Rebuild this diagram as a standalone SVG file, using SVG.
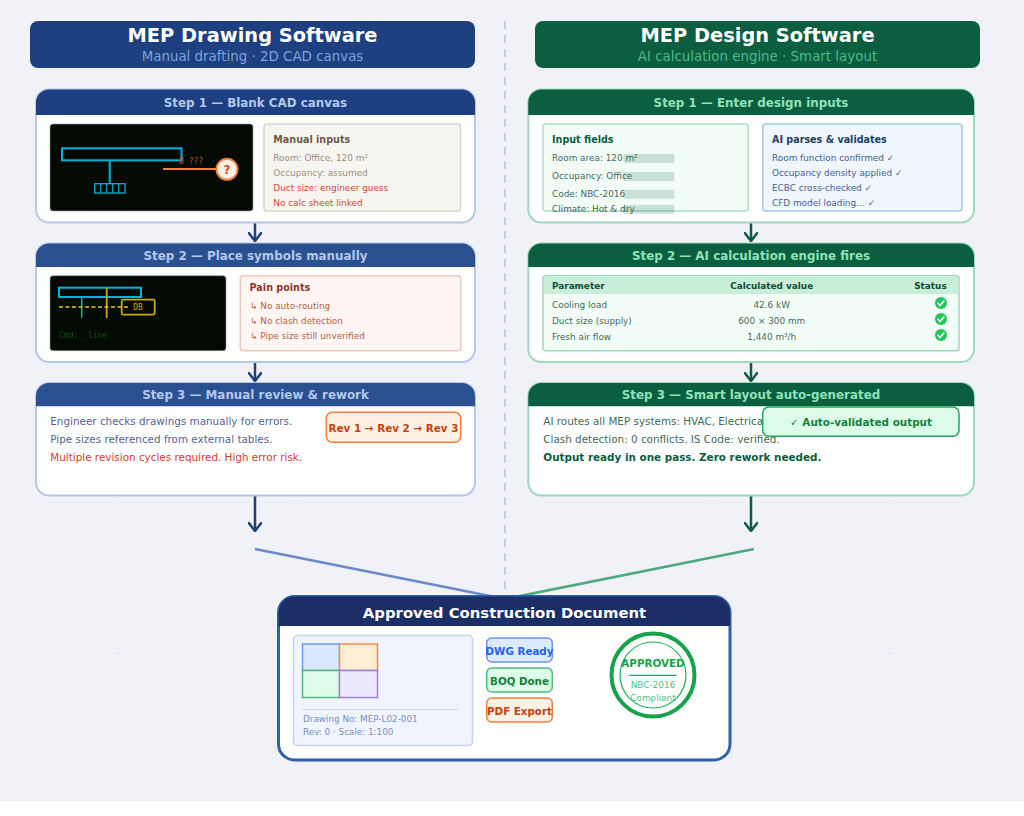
<svg xmlns="http://www.w3.org/2000/svg" width="1024" height="816" viewBox="0 0 1024 816">
<defs>
<style>
text{font-family:"DejaVu Sans",sans-serif;font-size:9px}
.m{text-anchor:middle}
.b{font-weight:700}
.mono{font-family:"DejaVu Sans Mono",monospace;font-size:8px}
.ttl{font-size:19.4px;font-weight:700;fill:#fff;text-anchor:middle}
.sub{font-size:13.4px;text-anchor:middle}
.cl{fill:#fff;stroke:#b8c8e4;stroke-width:2}
.cr{fill:#fff;stroke:#9ed9bb;stroke-width:2}
.hd{font-size:11.9px;font-weight:700;text-anchor:middle}
.bt{font-size:9.6px;font-weight:700}
.t9{font-size:8.9px}
.t11{font-size:10.4px}
.chip{fill:#0b5e3f;opacity:.18}
.dk{fill:#030a03;stroke:#9aa39a;stroke-width:.6}
.cy{fill:none;stroke:#00b4d8;stroke-width:2}
.ye{fill:none;stroke:#c9a800;stroke-width:1.8}
.ok{fill:#22c55e}
.tick{fill:none;stroke:#fff;stroke-width:1.6}
.conn{fill:none;stroke-width:2.5}
.speck{fill:#dcdfe6}
</style>
<marker id="ab" viewBox="0 0 14 10" refX="7" refY="9" markerWidth="14" markerHeight="10" markerUnits="userSpaceOnUse" orient="0"><path d="M0 0 7 9 14 0" fill="none" stroke="#1e3f80" stroke-width="2.5"/></marker>
<marker id="ag" viewBox="0 0 14 10" refX="7" refY="9" markerWidth="14" markerHeight="10" markerUnits="userSpaceOnUse" orient="0"><path d="M0 0 7 9 14 0" fill="none" stroke="#0b5e3f" stroke-width="2.5"/></marker>
</defs>
<rect width="1024" height="816" fill="#fff"/>
<rect width="1024" height="801" fill="#f0f2f7"/>
<g id="specks">
<rect class="speck" x="117" y="503" width="2" height="2"/><rect class="speck" x="295" y="503" width="2" height="2"/><rect class="speck" x="711" y="503" width="2" height="2"/><rect class="speck" x="889" y="503" width="2" height="2"/><rect class="speck" x="117" y="652" width="2" height="2"/><rect class="speck" x="889" y="652" width="2" height="2"/>
</g>
<g id="connectors">
<line x1="505" y1="21" x2="505" y2="596" stroke="#c8cde0" stroke-width="2" stroke-dasharray="8 6"/>
<path class="conn" d="M255 222V241" stroke="#1e3f80" marker-end="url(#ab)"/>
<path class="conn" d="M255 362V381" stroke="#1e3f80" marker-end="url(#ab)"/>
<path class="conn" d="M255 496V531" stroke="#1e3f80" marker-end="url(#ab)"/>
<path class="conn" d="M751 222V241" stroke="#0b5e3f" marker-end="url(#ag)"/>
<path class="conn" d="M751 362V381" stroke="#0b5e3f" marker-end="url(#ag)"/>
<path class="conn" d="M751 496V531" stroke="#0b5e3f" marker-end="url(#ag)"/>
<path class="conn" d="M255 549 505 599" stroke="#6b8cc4"/>
<path class="conn" d="M754 549 505 599" stroke="#4fa884"/>
</g>
<g id="title-left">
<rect x="30" y="21" width="445" height="47" rx="8" fill="#1e3f80"/>
<text class="ttl" x="252.500" y="42">MEP Drawing Software</text>
<text class="sub" x="252.500" y="61" fill="#7fa3d9">Manual drafting · 2D CAD canvas</text>
</g>
<g id="title-right">
<rect x="535" y="21" width="445" height="47" rx="8" fill="#0b5e3f"/>
<text class="ttl" x="757.500" y="42">MEP Design Software</text>
<text class="sub" x="757.500" y="61" fill="#4fb88a">AI calculation engine · Smart layout</text>
</g>
<g id="left-step-1">
<rect class="cl" x="36" y="89.500" width="439" height="133" rx="13"/>
<path d="M36 115V102.500a13 13 0 0 1 13-13H462a13 13 0 0 1 13 13V115Z" fill="#1e3f80"/>
<text class="hd" x="255.500" y="107" fill="#b3c8ec">Step 1 — Blank CAD canvas</text>
<rect class="dk" x="50" y="124" width="203" height="87" rx="3"/>
<rect class="cy" x="62" y="148.300" width="119.500" height="12"/>
<path class="cy" d="M109.700 160V184"/>
<rect class="cy" x="94.700" y="183.700" width="30.300" height="9.300" style="stroke-width:1.300"/>
<path class="cy" d="M100.700 184V193M106.700 184V193M112.700 184V193M118.700 184V193" style="stroke-width:1.100"/>
<text class="mono" x="179" y="164" fill="#b8552a">Ø ???</text>
<line x1="163" y1="169" x2="218" y2="169" stroke="#f0803c" stroke-width="2"/>
<circle cx="227" cy="169.300" r="10.500" fill="#fff3e8" stroke="#f0803c" stroke-width="2"/>
<text class="m b" style="font-size:12px" x="227" y="173.700" fill="#d9451e">?</text>
<rect x="264" y="124" width="196.500" height="87" rx="3" fill="#f7f5f0" stroke="#d9d4c5" stroke-width="1.500"/>
<text class="bt" x="273.300" y="143" fill="#6b5b45">Manual inputs</text>
<text class="t9" x="273.300" y="160.700" fill="#998f80">Room: Office, 120 m²</text>
<text class="t9" x="273.300" y="175.600" fill="#998f80">Occupancy: assumed</text>
<text class="t9" x="273.300" y="190.600" fill="#cc4a38">Duct size: engineer guess</text>
<text class="t9" x="273.300" y="205.600" fill="#cc4a38">No calc sheet linked</text>
</g>
<g id="left-step-2">
<rect class="cl" x="36" y="243.500" width="439" height="118.500" rx="13"/>
<path d="M36 267V256.500a13 13 0 0 1 13-13H462a13 13 0 0 1 13 13V267Z" fill="#2b5090"/>
<text class="hd" x="255.500" y="260" fill="#b3c8ec">Step 2 — Place symbols manually</text>
<rect class="dk" x="50" y="275.700" width="176" height="75" rx="3"/>
<rect class="cy" x="59" y="287.700" width="82" height="9.300"/>
<path class="cy" d="M81.700 297V317.700" style="stroke-width:1.500"/>
<path class="ye" d="M106.700 288V318"/>
<path d="M59 307H130" fill="none" stroke="#e6c619" stroke-width="1.600" stroke-dasharray="4 2.500"/>
<rect class="ye" x="121.700" y="299.700" width="33" height="15" rx="1.500"/>
<text class="mono m" x="138" y="310" fill="#c9a800">DB</text>
<text class="mono" x="59" y="338" fill="#0f4a0f">Cmd: _line</text>
<rect x="240.300" y="275.700" width="220.400" height="75" rx="3" fill="#fff5f2" stroke="#f3c5bd" stroke-width="1.500"/>
<text class="bt" x="249.600" y="291" fill="#8c3a2b">Pain points</text>
<text class="t9" x="250" y="309" fill="#b5604c">↳ No auto-routing</text>
<text class="t9" x="250" y="324" fill="#b5604c">↳ No clash detection</text>
<text class="t9" x="250" y="339" fill="#b5604c">↳ Pipe size still unverified</text>
</g>
<g id="left-step-3">
<rect class="cl" x="36" y="383" width="439" height="112.500" rx="13"/>
<path d="M36 406.300V396a13 13 0 0 1 13-13H462a13 13 0 0 1 13 13V406.300Z" fill="#2b5090"/>
<text class="hd" x="255.500" y="399" fill="#b3c8ec">Step 3 — Manual review &amp; rework</text>
<text class="t11" x="50.300" y="425" fill="#55648f">Engineer checks drawings manually for errors.</text>
<text class="t11" x="50.300" y="442.500" fill="#55648f">Pipe sizes referenced from external tables.</text>
<text class="t11" x="50.300" y="460.500" fill="#d93a2b">Multiple revision cycles required. High error risk.</text>
<rect x="326.300" y="412.300" width="134.400" height="30" rx="6" fill="#fff0e4" stroke="#f0803c" stroke-width="1.500"/>
<text class="m b t11" x="393.500" y="431.700" fill="#c2410c">Rev 1 → Rev 2 → Rev 3</text>
</g>
<g id="right-step-1">
<rect class="cr" x="528.300" y="89.500" width="445.700" height="133" rx="13"/>
<path d="M528.300 115V102.500a13 13 0 0 1 13-13H961a13 13 0 0 1 13 13V115Z" fill="#0b5e3f"/>
<text class="hd" x="751" y="107" fill="#8ee3b8">Step 1 — Enter design inputs</text>
<rect x="543" y="124" width="205.300" height="87" rx="3" fill="#f3fdf8" stroke="#a6e0c2" stroke-width="1.500"/>
<text class="bt" x="552" y="143" fill="#0b5e3f">Input fields</text>
<text class="t9" x="552" y="160.700" fill="#3f6b5a">Room area: 120 m²</text>
<text class="t9" x="552" y="178.700" fill="#3f6b5a">Occupancy: Office</text>
<text class="t9" x="552" y="196.500" fill="#3f6b5a">Code: NBC-2016</text>
<text class="t9" x="552" y="211.500" fill="#3f6b5a">Climate: Hot &amp; dry</text>
<rect class="chip" x="623.300" y="154" width="51" height="9" rx="1"/>
<rect class="chip" x="623.300" y="172" width="51" height="9" rx="1"/>
<rect class="chip" x="623.300" y="189.700" width="51" height="9" rx="1"/>
<rect class="chip" x="623.300" y="204.700" width="51" height="9" rx="1"/>
<rect x="762.700" y="124" width="199.300" height="87" rx="3" fill="#eff6fe" stroke="#a6c8e8" stroke-width="1.500"/>
<text class="bt" x="772" y="143" fill="#1e3f66">AI parses &amp; validates</text>
<text class="t9" x="772" y="160.700" fill="#3f6291">Room function confirmed ✓</text>
<text class="t9" x="772" y="175.600" fill="#3f6291">Occupancy density applied ✓</text>
<text class="t9" x="772" y="190.600" fill="#3f6291">ECBC cross-checked ✓</text>
<text class="t9" x="772" y="205.600" fill="#3f6291">CFD model loading… ✓</text>
</g>
<g id="right-step-2">
<rect class="cr" x="528.300" y="243.500" width="445.700" height="118.500" rx="13"/>
<path d="M528.300 267V256.500a13 13 0 0 1 13-13H961a13 13 0 0 1 13 13V267Z" fill="#0b5e3f"/>
<text class="hd" x="751" y="260" fill="#8ee3b8">Step 2 — AI calculation engine fires</text>
<rect x="543" y="275.700" width="416" height="75" rx="3" fill="#f3fdf8" stroke="#9ed9bb" stroke-width="1.500"/>
<path d="M543.800 294V279a2.500 2.500 0 0 1 2.500-2.500H955.700a2.500 2.500 0 0 1 2.500 2.500V294Z" fill="#c8eeda"/>
<g class="b" fill="#0f4d35">
<text class="t9" x="552" y="289.300">Parameter</text>
<text class="t9 m" x="771.700" y="289.300">Calculated value</text>
<text class="t9" x="946.700" y="289.300" text-anchor="end">Status</text>
</g>
<g fill="#3f6b5a">
<text class="t9" x="552" y="307.500">Cooling load</text>
<text class="t9 m" x="771.700" y="307.500">42.6 kW</text>
<text class="t9" x="552" y="324">Duct size (supply)</text>
<text class="t9 m" x="771.700" y="324">600 × 300 mm</text>
<text class="t9" x="552" y="340.200">Fresh air flow</text>
<text class="t9 m" x="771.700" y="340.200">1,440 m³/h</text>
</g>
<circle class="ok" cx="941" cy="303" r="6"/><path class="tick" d="M937.800 303 940 305.500 944.300 300.500"/>
<circle class="ok" cx="941" cy="319" r="6"/><path class="tick" d="M937.800 319 940 321.500 944.300 316.500"/>
<circle class="ok" cx="941" cy="335" r="6"/><path class="tick" d="M937.800 335 940 337.500 944.300 332.500"/>
</g>
<g id="right-step-3">
<rect class="cr" x="528.300" y="383" width="445.700" height="112.500" rx="13"/>
<path d="M528.300 406.300V396a13 13 0 0 1 13-13H961a13 13 0 0 1 13 13V406.300Z" fill="#0b5e3f"/>
<text class="hd" x="751" y="399" fill="#8ee3b8">Step 3 — Smart layout auto-generated</text>
<text class="t11" x="543.300" y="425" fill="#3f6b5a">AI routes all MEP systems: HVAC, Electrical</text>
<text class="t11" x="543.300" y="442.500" fill="#3f6b5a">Clash detection: 0 conflicts. IS Code: verified.</text>
<text class="t11 b" x="543.300" y="460.500" fill="#0b5e3f">Output ready in one pass. Zero rework needed.</text>
<rect x="762.700" y="407" width="196.300" height="29.300" rx="6" fill="#dcfce7" stroke="#22a45d" stroke-width="1.500"/>
<text class="m b t11" x="861" y="426" fill="#15803d">✓ Auto-validated output</text>
</g>
<g id="final-document">
<rect x="278.500" y="596.500" width="451.500" height="163.500" rx="16" fill="#fff" stroke="#2f5fa8" stroke-width="3"/>
<path d="M278.500 626V612.500a16 16 0 0 1 16-16H714a16 16 0 0 1 16 16V626Z" fill="#1b2f66"/>
<text class="m b" style="font-size:14.850px" x="504.500" y="618" fill="#fff">Approved Construction Document</text>
<rect x="293.500" y="635.500" width="179" height="110" rx="4" fill="#eff4fe" stroke="#c5d3ee" stroke-width="1.500"/>
<rect x="302.500" y="644" width="37" height="26.500" fill="#dbe8fe" stroke="#6c97f0" stroke-width="1.500"/>
<rect x="339.500" y="644" width="38" height="26.500" fill="#ffedd5" stroke="#f08a4b" stroke-width="1.500"/>
<rect x="302.500" y="670.500" width="37" height="27" fill="#dcfce7" stroke="#4fb878" stroke-width="1.500"/>
<rect x="339.500" y="670.500" width="38" height="27" fill="#ede9fe" stroke="#a07be8" stroke-width="1.500"/>
<line x1="302.500" y1="709.500" x2="457.500" y2="709.500" stroke="#c5d3ee"/>
<text style="font-size:8.800px" x="303" y="721.500" fill="#7b90b8">Drawing No: MEP-L02-001</text>
<text style="font-size:8.800px" x="303" y="735" fill="#7b90b8">Rev: 0 · Scale: 1:100</text>
</g>
<g id="badge-dwg"><rect x="486.700" y="638" width="65.600" height="24" rx="5" fill="#dbeafe" stroke="#6a94f0" stroke-width="1.500"/><text class="m b" style="font-size:10.300px" x="519.500" y="654.700" fill="#2563eb">DWG Ready</text></g>
<g id="badge-boq"><rect x="486.700" y="668" width="65.600" height="24" rx="5" fill="#dcfce7" stroke="#4fbf7b" stroke-width="1.500"/><text class="m b" style="font-size:10.300px" x="519.500" y="684.700" fill="#15803d">BOQ Done</text></g>
<g id="badge-pdf"><rect x="486.700" y="698" width="65.600" height="24" rx="5" fill="#fff1e6" stroke="#f0803c" stroke-width="1.500"/><text class="m b" style="font-size:10.300px" x="519.500" y="714.700" fill="#c2410c">PDF Export</text></g>
<g id="stamp">
<circle cx="653" cy="675" r="41.500" fill="#fff" stroke="#16a34a" stroke-width="4"/>
<circle cx="653" cy="675" r="33" fill="none" stroke="#22b060" stroke-width="1.200"/>
<text class="m b" style="font-size:10.350px" x="653" y="666.700" fill="#16a34a">APPROVED</text>
<line x1="629.300" y1="675.300" x2="676.700" y2="675.300" stroke="#22a45d" stroke-width="1.200"/>
<text class="m t9" x="653" y="687.500" fill="#4fc284">NBC-2016</text>
<text class="m t9" x="653" y="700.700" fill="#4fc284">Compliant</text>
</g>
</svg>
